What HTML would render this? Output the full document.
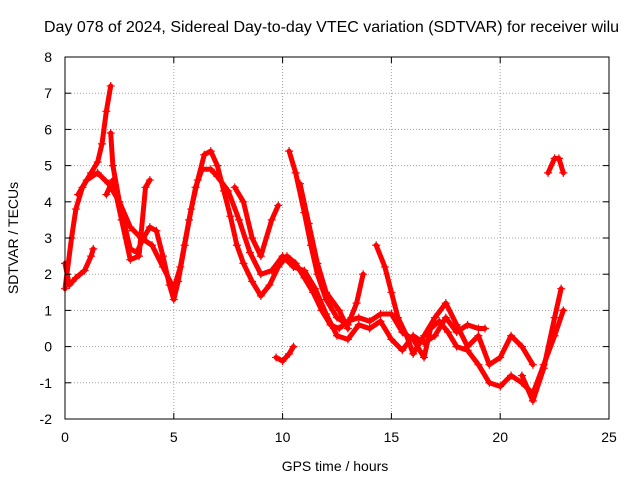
<!DOCTYPE html>
<html><head><meta charset="utf-8"><style>
body{margin:0;background:#fff}
svg{display:block;font-family:"Liberation Sans",sans-serif}
</style></head><body>
<svg width="640" height="480" viewBox="0 0 640 480">
<rect width="640" height="480" fill="#fff"/>
<text x="44" y="32" font-size="16" fill="#000">Day 078 of 2024, Sidereal Day-to-day VTEC variation (SDTVAR) for receiver wilu</text>
<g id="grid"></g>
<g id="marks"></g>
<rect x="65" y="57" width="544" height="362" fill="none" stroke="#000"/>
<g id="axes"></g>
<text x="18" y="238" font-size="14" text-anchor="middle" transform="rotate(-90 18 238)">SDTVAR / TECUs</text>
<text x="335" y="471" font-size="14" text-anchor="middle">GPS time / hours</text>
</svg>
<script>
const xTicks=[0,5,10,15,20,25];
const yTicks=[-2,-1,0,1,2,3,4,5,6,7,8];
const track1=[[0,1.6],[0.3,3],[0.5,3.8],[0.8,4.4],[1.2,4.8],[1.5,5.1],[1.7,5.6],[1.9,6.5],[2.1,7.2]];
const track2=[[2.1,5.9],[2.2,5],[2.5,4],[2.8,3.2],[3.0,2.7],[3.3,2.6],[3.6,3.0],[3.9,3.3],[4.2,3.2],[4.5,2.5],[4.8,1.7],[5.0,1.3],[5.2,1.8],[5.5,2.8],[5.8,3.8],[6.1,4.6],[6.4,5.3],[6.7,5.4],[7.0,5.0],[7.3,4.3],[7.6,3.6],[7.9,2.8],[8.2,2.3],[8.6,1.8],[9.0,1.4],[9.4,1.7],[9.8,2.2],[10.2,2.5],[10.6,2.3],[11,1.9],[11.4,1.5],[11.8,1.0],[12.2,0.6],[12.6,0.5],[13,0.7],[13.5,0.8],[14,0.7],[14.5,0.9],[15,0.9],[15.5,0.4],[16,0.2],[16.5,-0.3],[16.8,0.5],[17.2,0.7],[17.6,0.4],[18,0.0],[18.5,-0.1],[19,-0.5],[19.5,-1.0],[20,-1.1],[20.5,-0.8],[21,-1.0],[21.5,-1.3],[22,-0.5],[22.5,0.3],[22.9,1.0]];
const track3=[[0,2.3],[0.2,1.7],[0.5,1.9],[0.9,2.1],[1.2,2.5],[1.3,2.7]];
const track4=[[0.6,4.2],[1.0,4.6],[1.5,4.8],[2,4.5],[2.5,4.0],[3,3.3],[3.5,3.0],[4,2.8],[4.5,2.2],[5,1.6],[5.3,2.2],[5.7,3.5],[6,4.4],[6.3,4.9],[6.7,4.9],[7,4.7],[7.5,4.3],[8,3.5],[8.5,2.6],[9,2.0],[9.5,2.1],[10,2.5],[10.5,2.2],[11,2.1],[11.5,1.6],[12,0.9],[12.5,0.3],[13,0.2],[13.5,0.6],[14,0.5],[14.5,0.7],[15,0.2],[15.5,-0.1],[16,0.3],[16.5,0.1],[17,0.3],[17.5,0.8],[18,0.4],[18.5,0.6],[19,0.5],[19.3,0.5]];
const track5=[[1.9,4.2],[2.2,4.6],[2.6,3.5],[3,2.4],[3.4,2.5],[3.7,4.4],[3.9,4.6]];
const track6=[[10.3,5.4],[10.6,4.8],[11,3.7],[11.3,2.8],[11.6,2.0],[12,1.3],[12.5,0.8],[13,0.6],[13.4,1.2],[13.7,2.0]];
const track7=[[10.8,4.5],[11.2,3.4],[11.6,2.3],[12,1.5],[12.6,1.0],[13,0.5]];
const track8=[[14.3,2.8],[14.7,2.2],[15,1.5],[15.3,0.8],[15.7,0.3],[16,-0.2],[16.5,0.3],[17,0.8],[17.5,1.2],[18,0.6],[18.5,0.0],[19,0.3],[19.5,-0.5],[20,-0.3],[20.5,0.3],[21,0.0],[21.5,-0.5]];
const track9=[[7.8,4.4],[8.2,4.0],[8.6,3.0],[9,2.5],[9.5,3.5],[9.8,3.9]];
const track10=[[9.7,-0.3],[10,-0.4],[10.3,-0.2],[10.5,0]];
const track11=[[22.2,4.8],[22.5,5.2],[22.7,5.2],[22.9,4.8]];
const track12=[[21,-0.8],[21.5,-1.5],[22,-0.6],[22.5,0.8],[22.8,1.6]];
const tracks=[track1,track2,track3,track4,track5,track6,track7,track8,track9,track10,track11,track12];
const NS="http://www.w3.org/2000/svg";
const X0=65,X1=609,Y0=419,Y1=57;
const xs=v=>X0+(v-0)/(25-0)*(X1-X0);
const ys=v=>Y0-(v+2)/(8+2)*(Y0-Y1);
function mk(tag,attrs,parent){const e=document.createElementNS(NS,tag);for(const k in attrs)e.setAttribute(k,attrs[k]);parent.appendChild(e);return e;}
const grid=document.getElementById('grid'),axes=document.getElementById('axes'),marks=document.getElementById('marks');
xTicks.forEach(t=>{const x=xs(t);
 if(t>0&&t<25){const g=mk('line',{x1:x,x2:x,y1:Y1,y2:Y0,stroke:'#a0a0a0','stroke-dasharray':'1,2'},grid);
 
 }
 mk('line',{x1:x,x2:x,y1:Y0,y2:Y0-6,stroke:'#000'},axes);
 mk('line',{x1:x,x2:x,y1:Y1,y2:Y1+6,stroke:'#000'},axes);
 const l=mk('text',{x:x,y:442,'font-size':14,'text-anchor':'middle'},axes);l.textContent=t;
 
 
});
yTicks.forEach(t=>{const y=ys(t);
 if(t>-2&&t<8){const g=mk('line',{x1:X0,x2:X1,y1:y,y2:y,stroke:'#a0a0a0','stroke-dasharray':'1,2'},grid);
 
 }
 mk('line',{x1:X0,x2:X0+6,y1:y,y2:y,stroke:'#000'},axes);
 mk('line',{x1:X1,x2:X1-6,y1:y,y2:y,stroke:'#000'},axes);
 const l=mk('text',{x:52,y:y+5,'font-size':14,'text-anchor':'end'},axes);l.textContent=t;
 
 
});
tracks.forEach((tr,i)=>{
 const p=mk('polyline',{points:tr.map(d=>xs(d[0])+','+ys(d[1])).join(' '),fill:'none',stroke:'#f00','stroke-width':5,'stroke-linejoin':'round','stroke-linecap':'round'},marks);
 
 
 tr.forEach(d=>{const x=xs(d[0]),y=ys(d[1]);
  mk('path',{d:`M${x-4},${y}H${x+4}M${x},${y-4}V${y+4}`,stroke:'#f00','stroke-width':1.2},marks);
 });
});
</script>
</body></html>
